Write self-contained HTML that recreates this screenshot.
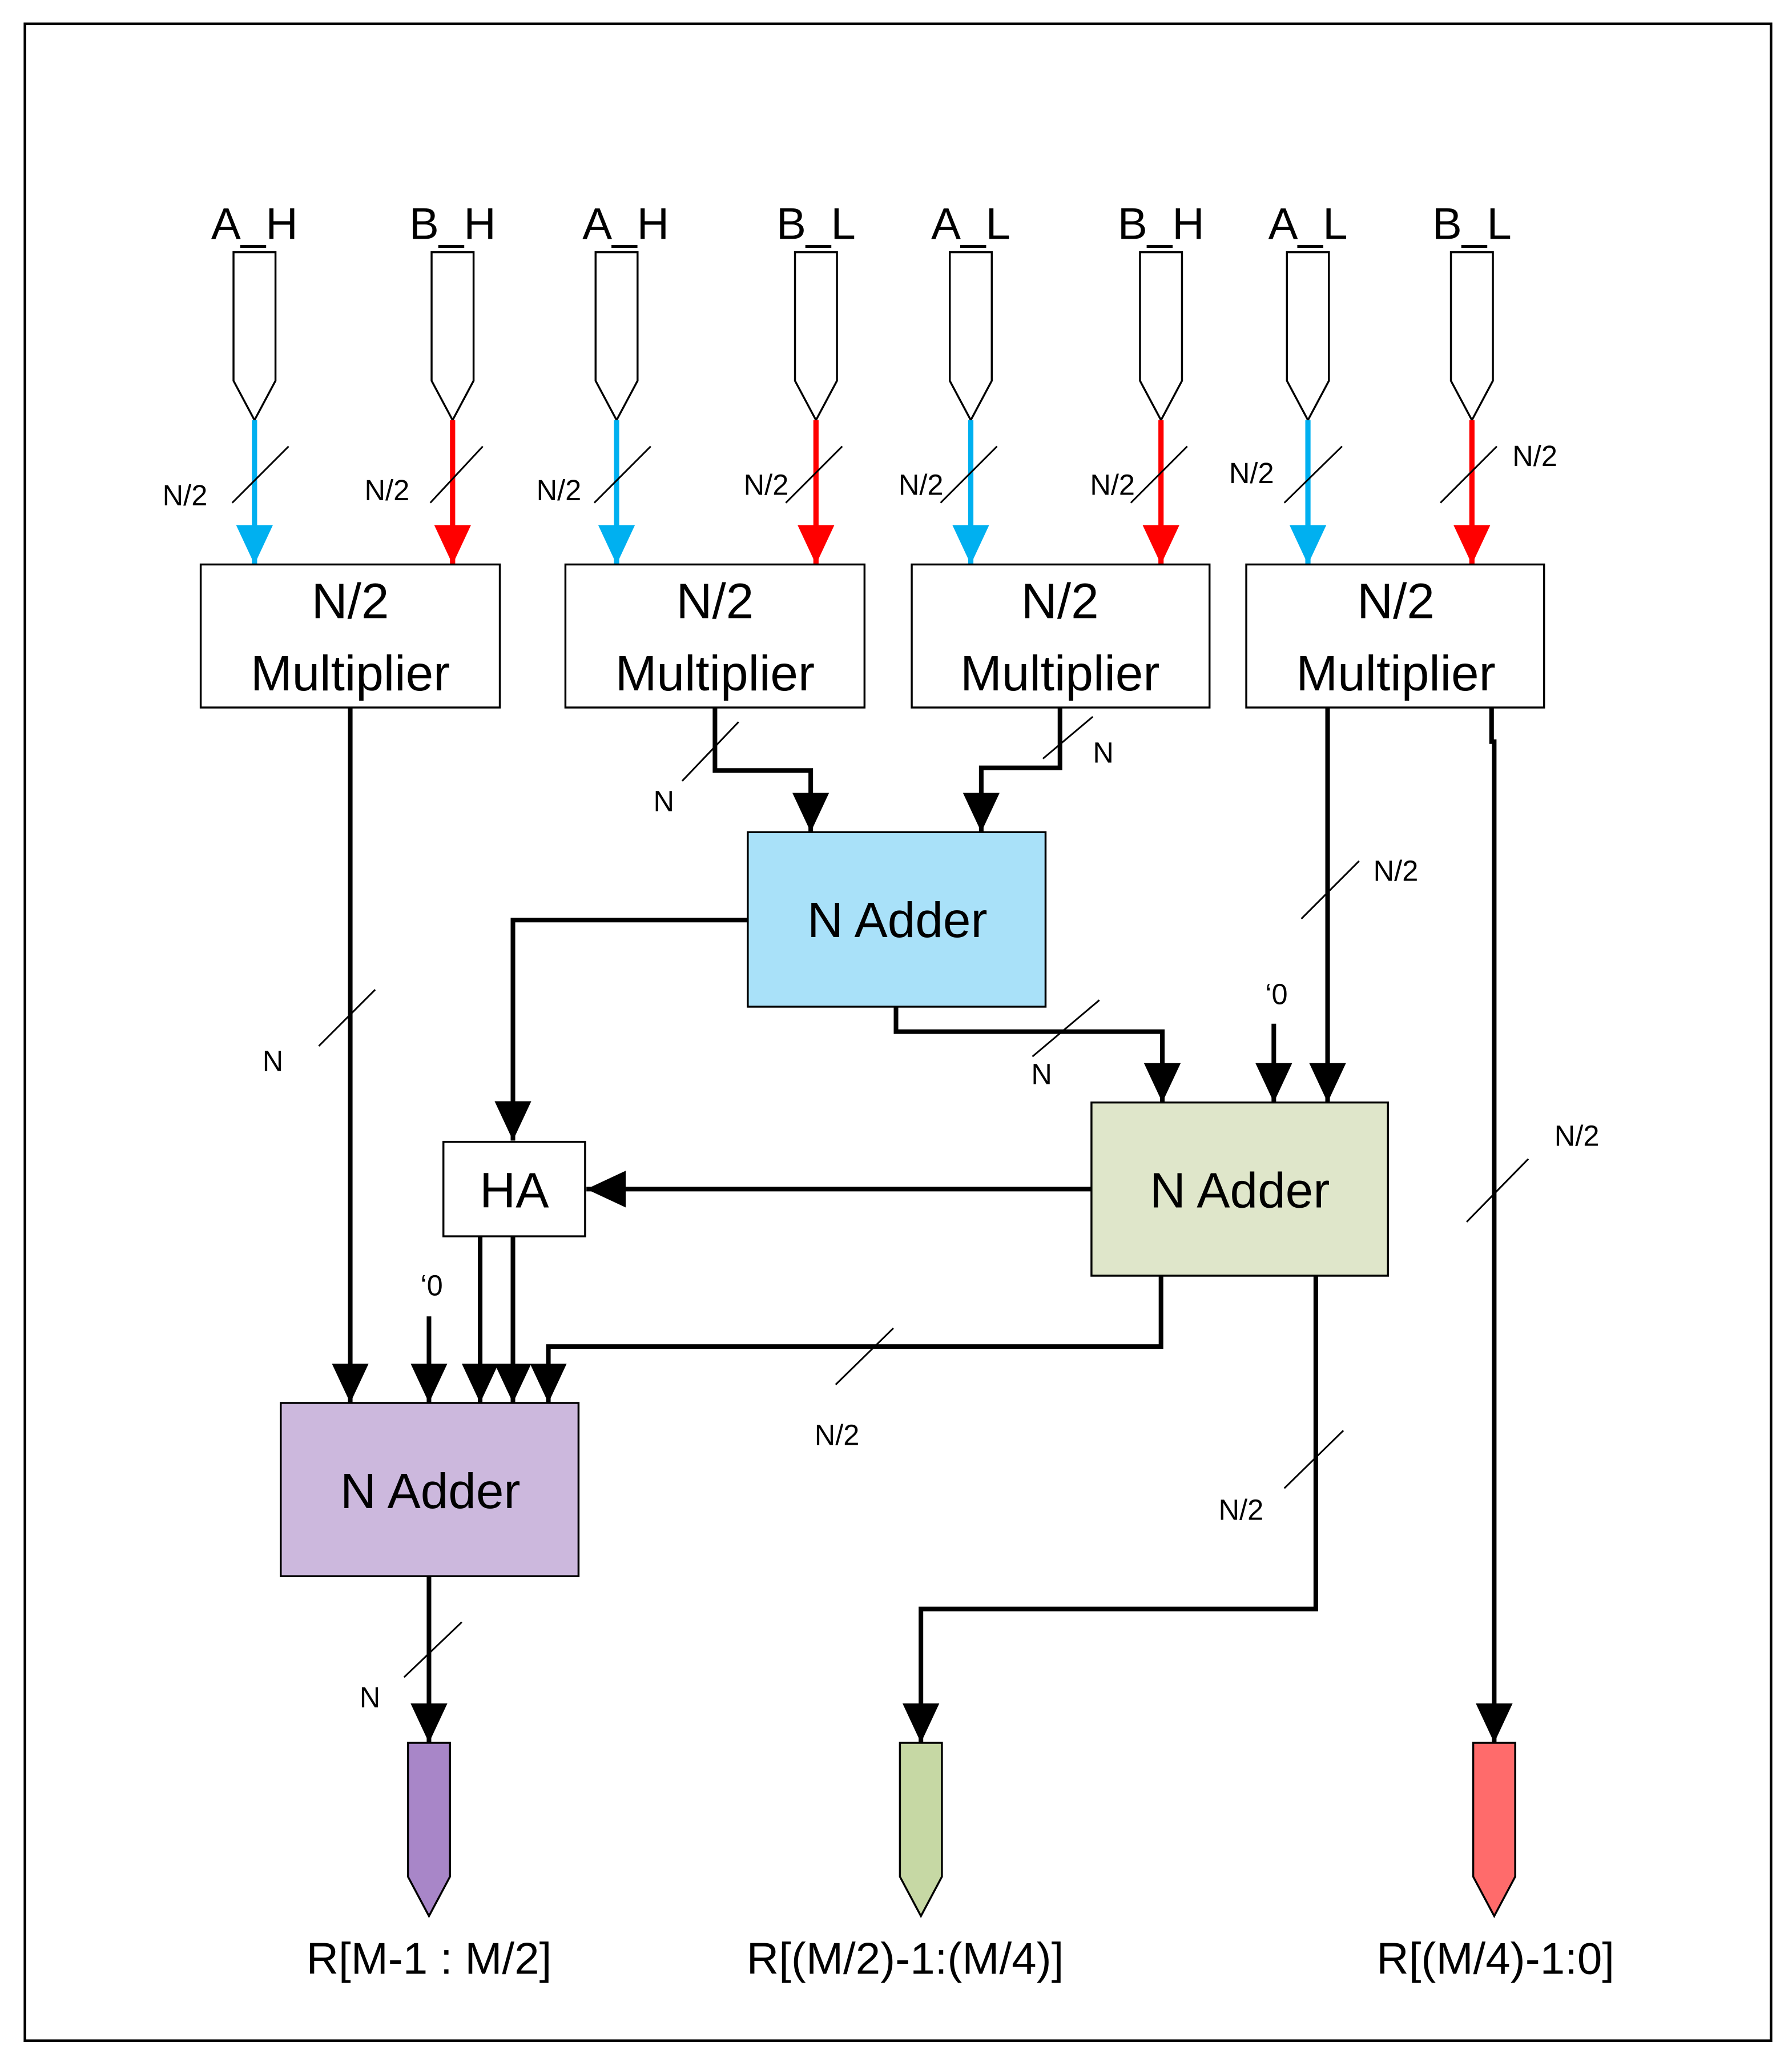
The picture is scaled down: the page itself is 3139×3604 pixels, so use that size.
<!DOCTYPE html>
<html><head><meta charset="utf-8"><style>
html,body{margin:0;padding:0;background:#fff}
svg{display:block}
text{font-family:"Liberation Sans",sans-serif;fill:#000}
</style></head><body>
<svg width="3139" height="3604" viewBox="0 0 1366 1568" xmlns="http://www.w3.org/2000/svg">
<defs>
<marker id="ak" viewBox="0 0 30 28" refX="30" refY="14" markerWidth="30" markerHeight="28" markerUnits="userSpaceOnUse" orient="auto"><path d="M0,0 L30,14 L0,28 Z" fill="#000"/></marker>
<marker id="ab" viewBox="0 0 30 28" refX="30" refY="14" markerWidth="30" markerHeight="28" markerUnits="userSpaceOnUse" orient="auto"><path d="M0,0 L30,14 L0,28 Z" fill="#00b0f0"/></marker>
<marker id="ar" viewBox="0 0 30 28" refX="30" refY="14" markerWidth="30" markerHeight="28" markerUnits="userSpaceOnUse" orient="auto"><path d="M0,0 L30,14 L0,28 Z" fill="#ff0000"/></marker>
</defs>
<rect x="19" y="18" width="1331" height="1537" fill="#fff" stroke="#000" stroke-width="2"/>

<!-- input pins -->
<g fill="#fff" stroke="#000" stroke-width="1.5">
<path d="M178,192 H210 V290 L194,320 L178,290 Z"/>
<path d="M329,192 H361 V290 L345,320 L329,290 Z"/>
<path d="M454,192 H486 V290 L470,320 L454,290 Z"/>
<path d="M606,192 H638 V290 L622,320 L606,290 Z"/>
<path d="M724,192 H756 V290 L740,320 L724,290 Z"/>
<path d="M869,192 H901 V290 L885,320 L869,290 Z"/>
<path d="M981,192 H1013 V290 L997,320 L981,290 Z"/>
<path d="M1106,192 H1138 V290 L1122,320 L1106,290 Z"/>
</g>
<g font-size="34" text-anchor="middle">
<text x="194" y="182">A_H</text><text x="345" y="182">B_H</text>
<text x="477" y="182">A_H</text><text x="622" y="182">B_L</text>
<text x="740" y="182">A_L</text><text x="885" y="182">B_H</text>
<text x="997" y="182">A_L</text><text x="1122" y="182">B_L</text>
</g>
<!-- input arrows -->
<g stroke-width="4">
<line x1="194" y1="320" x2="194" y2="430" stroke="#00b0f0" marker-end="url(#ab)"/>
<line x1="345" y1="320" x2="345" y2="430" stroke="#ff0000" marker-end="url(#ar)"/>
<line x1="470" y1="320" x2="470" y2="430" stroke="#00b0f0" marker-end="url(#ab)"/>
<line x1="622" y1="320" x2="622" y2="430" stroke="#ff0000" marker-end="url(#ar)"/>
<line x1="740" y1="320" x2="740" y2="430" stroke="#00b0f0" marker-end="url(#ab)"/>
<line x1="885" y1="320" x2="885" y2="430" stroke="#ff0000" marker-end="url(#ar)"/>
<line x1="997" y1="320" x2="997" y2="430" stroke="#00b0f0" marker-end="url(#ab)"/>
<line x1="1122" y1="320" x2="1122" y2="430" stroke="#ff0000" marker-end="url(#ar)"/>
</g>
<g stroke="#000" stroke-width="1.3">
<line x1="177" y1="383" x2="220" y2="340"/><line x1="328" y1="383" x2="368" y2="340"/>
<line x1="453" y1="383" x2="496" y2="340"/><line x1="599" y1="383" x2="642" y2="340"/>
<line x1="717" y1="383" x2="760" y2="340"/><line x1="862" y1="383" x2="905" y2="340"/>
<line x1="979" y1="383" x2="1023" y2="340"/><line x1="1098" y1="383" x2="1141" y2="340"/>
</g>
<g font-size="22" text-anchor="middle">
<text x="141" y="385">N/2</text><text x="295" y="381">N/2</text>
<text x="426" y="381">N/2</text><text x="584" y="377">N/2</text>
<text x="702" y="377">N/2</text><text x="848" y="377">N/2</text>
<text x="954" y="368">N/2</text><text x="1170" y="355">N/2</text>
</g>

<!-- multipliers -->
<g fill="#fff" stroke="#000" stroke-width="1.5">
<rect x="153" y="430" width="228" height="109"/><rect x="431" y="430" width="228" height="109"/>
<rect x="695" y="430" width="227" height="109"/><rect x="950" y="430" width="227" height="109"/>
</g>
<g font-size="38" text-anchor="middle">
<text x="267" y="471">N/2</text><text x="267" y="526">Multiplier</text>
<text x="545" y="471">N/2</text><text x="545" y="526">Multiplier</text>
<text x="808" y="471">N/2</text><text x="808" y="526">Multiplier</text>
<text x="1064" y="471">N/2</text><text x="1064" y="526">Multiplier</text>
</g>

<!-- adders -->
<rect x="570" y="634" width="227" height="133" fill="#a9e1f9" stroke="#000" stroke-width="1.5"/>
<rect x="832" y="840" width="226" height="132" fill="#dfe6ca" stroke="#000" stroke-width="1.5"/>
<rect x="214" y="1069" width="227" height="132" fill="#ccb8dd" stroke="#000" stroke-width="1.5"/>
<rect x="338" y="870" width="108" height="72" fill="#fff" stroke="#000" stroke-width="1.5"/>
<g font-size="38" text-anchor="middle">
<text x="684" y="714">N Adder</text><text x="945" y="920">N Adder</text>
<text x="328" y="1149">N Adder</text><text x="392" y="920">HA</text>
</g>

<!-- black connectors -->
<g fill="none" stroke="#000" stroke-width="3.5" marker-end="url(#ak)">
<path d="M267,539 V1069"/>
<path d="M545,539 V587 H618 V634"/>
<path d="M808,539 V585 H748 V634"/>
<path d="M570,701 H391 V869"/>
<path d="M683,767 V786 H886 V840"/>
<path d="M1012,539 V840"/>
<path d="M971,780 V840"/>
<path d="M832,906 H447"/>
<path d="M1137,539 V565 H1139 V1328"/>
<path d="M366,942 V1069"/>
<path d="M391,942 V1069"/>
<path d="M885,972 V1026 H418 V1069"/>
<path d="M327,1003 V1069"/>
<path d="M327,1201 V1328"/>
<path d="M1003,972 V1226 H702 V1328"/>
</g>
<g stroke="#000" stroke-width="1.3">
<line x1="243" y1="797" x2="286" y2="754"/>
<line x1="520" y1="595" x2="563" y2="550"/>
<line x1="795" y1="578" x2="833" y2="546"/>
<line x1="787" y1="805" x2="838" y2="762"/>
<line x1="992" y1="700" x2="1036" y2="656"/>
<line x1="1118" y1="931" x2="1165" y2="883"/>
<line x1="637" y1="1055" x2="681" y2="1012"/>
<line x1="308" y1="1278" x2="352" y2="1236"/>
<line x1="979" y1="1134" x2="1024" y2="1090"/>
</g>
<g font-size="22" text-anchor="middle">
<text x="208" y="816">N</text><text x="506" y="618">N</text><text x="841" y="581">N</text>
<text x="794" y="826">N</text><text x="1064" y="671">N/2</text><text x="1202" y="873">N/2</text>
<text x="638" y="1101">N/2</text><text x="282" y="1301">N</text><text x="946" y="1158">N/2</text>
<text x="973" y="765">‘0</text><text x="329" y="987">‘0</text>
</g>

<!-- outputs -->
<g stroke="#000" stroke-width="1.5">
<path d="M311,1328 H343 V1430 L327,1460 L311,1430 Z" fill="#a886c8"/>
<path d="M686,1328 H718 V1430 L702,1460 L686,1430 Z" fill="#c6d8a4"/>
<path d="M1123,1328 H1155 V1430 L1139,1460 L1123,1430 Z" fill="#ff6b6b"/>
</g>
<g font-size="34" text-anchor="middle">
<text x="327" y="1504">R[M-1 : M/2]</text>
<text x="690" y="1504">R[(M/2)-1:(M/4)]</text>
<text x="1140" y="1504">R[(M/4)-1:0]</text>
</g>
</svg>
</body></html>
